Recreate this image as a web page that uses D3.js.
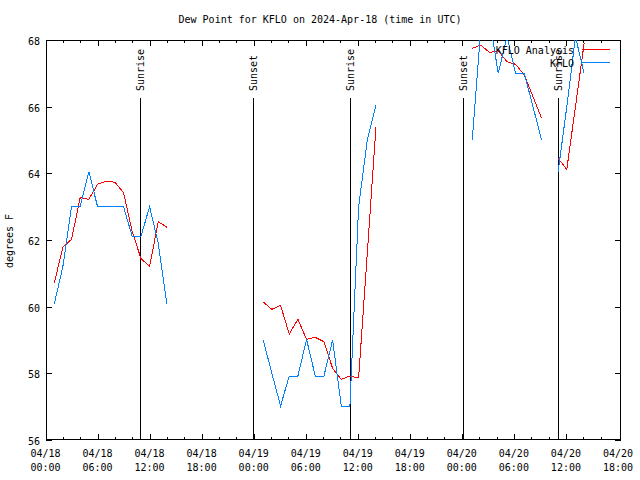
<!DOCTYPE html>
<html><head><meta charset="utf-8">
<script src="https://cdn.jsdelivr.net/npm/d3@7"></script>
<style>
body{margin:0;background:#fff;}
svg text{font-family:"DejaVu Sans Mono",monospace;font-size:10px;fill:#000;}
</style></head>
<body><svg id="c" width="640" height="480"></svg>
<script>
// hours since 2024-04-18 00:00 UTC, one array per continuous segment
const hours1 = [1,2,3,4,5,6,7,8,9,10,11,12,13,14];
const hours2 = [25.1,26.1,27.1,28.1,29.1,30.1,31.1,32.1,33.1,34.1,35.1,36.1,37.1,38.1];
const hours3 = [49.2,50.2,51.2,52.2,53.2,54.2,55.2,56.2,57.2];
const hours4 = [59.1,60.1,61.1,62.1];
// KFLO Analysis (red)
const analysis1 = [60.7,61.78,62.02,63.27,63.22,63.67,63.77,63.73,63.42,62.25,61.45,61.2,62.55,62.38];
const analysis2 = [60.14,59.92,60.04,59.18,59.62,59.02,59.08,58.95,58.15,57.82,57.92,57.86,61.6,65.4];
const analysis3 = [67.75,67.85,67.62,67.68,67.35,67.27,66.95,66.3,65.65];
const analysis4 = [64.45,64.12,66.0,67.9];
// KFLO observations (blue)
const obs1 = [60.07,61.2,63.0,63.0,64.05,63.0,63.0,63.0,63.0,62.1,62.1,63.0,61.9,60.07];
const obs2 = [59.0,58.0,57.02,57.92,57.92,59.02,57.92,57.92,59.0,57.02,57.02,63.0,65.0,66.05];
const obs3 = [65.0,68.4,68.6,67.0,68.1,67.0,67.0,66.0,65.0];
const obs4 = [64.05,66.0,68.1,67.0];
// sunrise / sunset markers
const sunHours = [10.95,23.92,35.05,48.13,59.03];
const sunLabels = ["Sunrise","Sunset","Sunrise","Sunset","Sunrise"];
// axis ticks
const xTickHours = [0,6,12,18,24,30,36,42,48,54,60,66];
const xTickDates = ["04/18","04/18","04/18","04/18","04/19","04/19","04/19","04/19","04/20","04/20","04/20","04/20"];
const xTickTimes = ["00:00","06:00","12:00","18:00","00:00","06:00","12:00","18:00","00:00","06:00","12:00","18:00"];
const yTicks = [56,58,60,62,64,66,68];
const seriesNames = ["KFLO Analysis","KFLO"];
const seriesColors = ["#ff0000","#0080ff"];

const svg = d3.select("#c");
const L=46, R=621, T=40, B=440;
const x = d3.scaleLinear().domain([0,66.35]).range([45.5,R]);
const y = d3.scaleLinear().domain([56,68]).range([B,T]);

svg.append("defs").append("clipPath").attr("id","clip")
  .append("rect").attr("x",L).attr("y",T).attr("width",R-L).attr("height",B-T);

// title
svg.append("text").attr("x",320).attr("y",23).attr("text-anchor","middle")
  .text("Dew Point for KFLO on 2024-Apr-18 (time in UTC)");

// y label
svg.append("text").attr("transform","translate(13,241) rotate(-90)").attr("text-anchor","middle")
  .text("degrees F");

const g = svg.append("g").attr("shape-rendering","crispEdges");
// x minor/major ticks (bottom & top)
const xMinor = d3.range(2,66,2);
xMinor.forEach(h=>{
  const len = (h%6===0)?6:3;
  const px = Math.round(x(h))+0.5;
  g.append("line").attr("x1",px).attr("x2",px).attr("y1",B).attr("y2",B-len).attr("stroke","#000");
  g.append("line").attr("x1",px).attr("x2",px).attr("y1",T).attr("y2",T+len).attr("stroke","#000");
});
// y ticks
yTicks.forEach(v=>{
  const py = Math.round(y(v))+0.5;
  g.append("line").attr("x1",L).attr("x2",L+6).attr("y1",py).attr("y2",py).attr("stroke","#000");
  g.append("line").attr("x1",R-6).attr("x2",R).attr("y1",py).attr("y2",py).attr("stroke","#000");
  svg.append("text").attr("x",40).attr("y",py+4).attr("text-anchor","end").text(v);
});
// x tick labels
xTickHours.forEach((h,i)=>{
  svg.append("text").attr("x",x(h)).attr("y",457).attr("text-anchor","middle").text(xTickDates[i]);
  svg.append("text").attr("x",x(h)).attr("y",471).attr("text-anchor","middle").text(xTickTimes[i]);
});

// sun lines
sunHours.forEach((h,i)=>{
  const px = Math.round(x(h))+0.5;
  g.append("line").attr("x1",px).attr("x2",px).attr("y1",98).attr("y2",B).attr("stroke","#000");
  svg.append("text").attr("transform",`translate(${px},91) rotate(-90)`).attr("dy","0.35em")
    .attr("text-anchor","start").text(sunLabels[i]);
});

// series
const line = d3.line().x(d=>x(d[0])).y(d=>y(d[1]));
const dg = svg.append("g").attr("clip-path","url(#clip)").attr("shape-rendering","crispEdges");
const segs = [[hours1,analysis1,obs1],[hours2,analysis2,obs2],[hours3,analysis3,obs3],[hours4,analysis4,obs4]];
segs.forEach(([hs,a,o])=>{
  dg.append("path").attr("d",line(hs.map((h,i)=>[h,a[i]]))).attr("fill","none")
    .attr("stroke",seriesColors[0]).attr("stroke-width",1);
  dg.append("path").attr("d",line(hs.map((h,i)=>[h,o[i]]))).attr("fill","none")
    .attr("stroke",seriesColors[1]).attr("stroke-width",1);
});

// frame
g.append("rect").attr("x",L+0.5).attr("y",T+0.5).attr("width",R-L-1).attr("height",B-T-1)
  .attr("fill","none").attr("stroke","#000");

// legend
seriesNames.forEach((n,i)=>{
  const ly = 49.5 + i*13;
  svg.append("text").attr("x",574).attr("y",ly+4).attr("text-anchor","end").text(n);
  svg.append("line").attr("x1",582).attr("x2",610).attr("y1",ly).attr("y2",ly)
    .attr("stroke",seriesColors[i]).attr("shape-rendering","crispEdges");
});
</script></body></html>
